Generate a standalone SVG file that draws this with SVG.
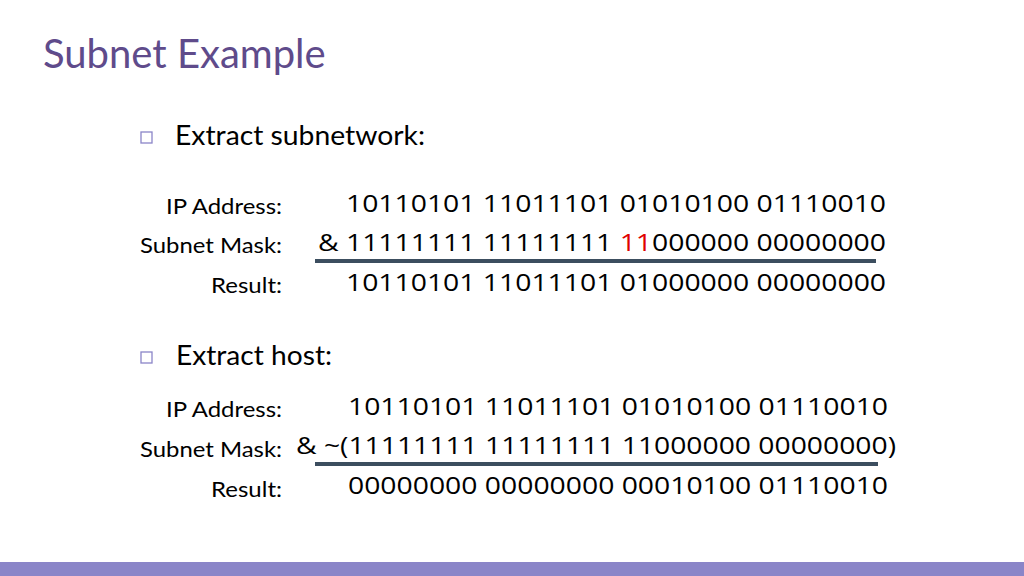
<svg xmlns="http://www.w3.org/2000/svg" width="1024" height="576" viewBox="0 0 1024 576">
<style>
.t{font-family:Lato,"Open Sans",sans-serif;fill:#000}
.lab{font-family:Lato,"Open Sans",sans-serif;font-size:22px;fill:#000}
.num{font-family:"Open Sans","DejaVu Sans",sans-serif;font-size:24px;fill:#000}
.box{fill:none;stroke:#8a85c8;stroke-width:1.3}
.rule{stroke:#3c4e5f;stroke-width:4}
</style>
<rect width="1024" height="576" fill="#fff"/>
<text x="43" y="68" class="t" style="font-size:40px;fill:#5f4b8b">Subnet Example</text>
<g id="sec1">
<rect class="box" x="141" y="132" width="11" height="11"/>
<text x="175" y="145" class="t" style="font-size:27px" textLength="250" lengthAdjust="spacingAndGlyphs">Extract subnetwork:</text>
<text x="166" y="214" class="lab" textLength="116" lengthAdjust="spacingAndGlyphs">IP Address:</text>
<text x="140" y="253" class="lab" textLength="142" lengthAdjust="spacingAndGlyphs">Subnet Mask:</text>
<text x="211" y="293" class="lab" textLength="71" lengthAdjust="spacingAndGlyphs">Result:</text>
<text x="346" y="212" class="num" textLength="540" lengthAdjust="spacingAndGlyphs">10110101 11011101 01010100 01110010</text>
<text x="318" y="251" class="num" textLength="568" lengthAdjust="spacingAndGlyphs">&amp; 11111111 11111111 <tspan fill="#e00000">11</tspan>000000 00000000</text>
<text x="346" y="291" class="num" textLength="540" lengthAdjust="spacingAndGlyphs">10110101 11011101 01000000 00000000</text>
</g>
<g id="sec2">
<rect class="box" x="141" y="352" width="11" height="11"/>
<text x="176" y="365" class="t" style="font-size:27px" textLength="156" lengthAdjust="spacingAndGlyphs">Extract host:</text>
<text x="166" y="417" class="lab" textLength="116" lengthAdjust="spacingAndGlyphs">IP Address:</text>
<text x="140" y="457" class="lab" textLength="142" lengthAdjust="spacingAndGlyphs">Subnet Mask:</text>
<text x="211" y="497" class="lab" textLength="71" lengthAdjust="spacingAndGlyphs">Result:</text>
<text x="348" y="415" class="num" textLength="540" lengthAdjust="spacingAndGlyphs">10110101 11011101 01010100 01110010</text>
<text x="296" y="454" class="num" textLength="600" lengthAdjust="spacingAndGlyphs">&amp; ~(11111111 11111111 11000000 00000000)</text>
<text x="348" y="494" class="num" textLength="540" lengthAdjust="spacingAndGlyphs">00000000 00000000 00010100 01110010</text>
</g>
<g id="connectors">
<line class="rule" x1="315" y1="261" x2="876" y2="261"/>
<line class="rule" x1="315" y1="464" x2="878" y2="464"/>
</g>
<rect x="0" y="562" width="1024" height="14" fill="#8a85c8"/>
</svg>
